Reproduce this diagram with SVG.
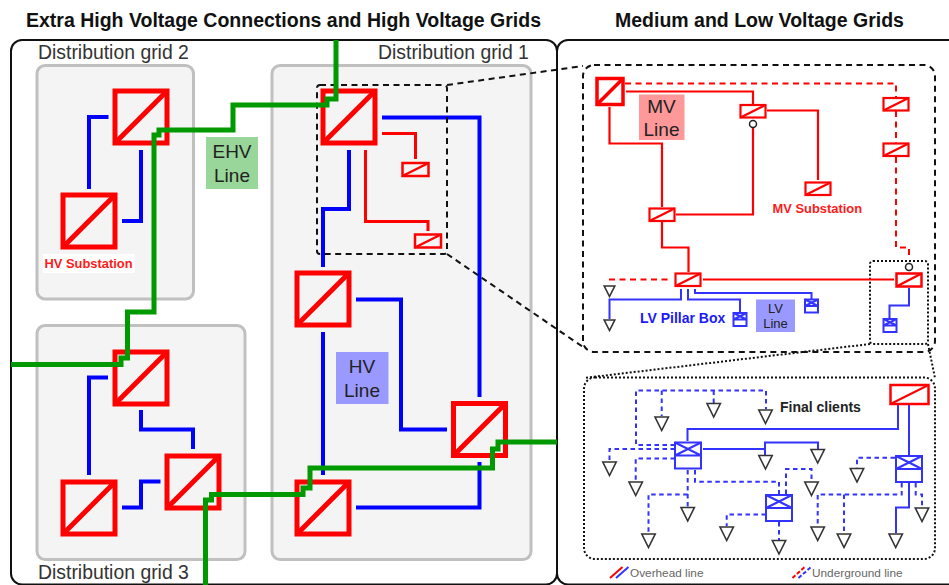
<svg xmlns="http://www.w3.org/2000/svg" width="949" height="585" viewBox="0 0 949 585">
<style>
text{font-family:"Liberation Sans",Arial,sans-serif;fill:#222}
.t{font-weight:bold;font-size:19.5px;fill:#111}
.g{font-size:19.4px;fill:#333}
.lb{font-size:19px;text-anchor:middle;fill:#222}
.lbs{font-size:13px;text-anchor:middle;fill:#222}
.frame{fill:none;stroke:#111;stroke-width:2}
.grid{fill:#f4f4f4;stroke:#c0c0c0;stroke-width:3}
.dash{fill:none;stroke:#111;stroke-width:2;stroke-dasharray:6 4.5}
.dot{fill:none;stroke:#111;stroke-width:2;stroke-dasharray:2 2}
path{fill:none}
.ehv{stroke:#009900;stroke-width:5}
.hv{stroke:#0000ff;stroke-width:4}
.mv{stroke:#ff0000;stroke-width:2.2}
.mv3{stroke:#ff0000;stroke-width:3}
.mvd{stroke:#ff0000;stroke-width:2;stroke-dasharray:6 4.5}
.lv{stroke:#3333ff;stroke-width:2}
.lvd{stroke:#3333ff;stroke-width:2;stroke-dasharray:4.5 3.5}
.sr{fill:none;stroke:#ff0000;stroke-width:5}
.s2{fill:#f4f4f4;stroke:#ff0000;stroke-width:2.5}
.s3{fill:#fff;stroke:#ff0000;stroke-width:2.2}
.p{fill:#fff;stroke:#3333ff;stroke-width:2}
.tri{fill:none;stroke:#333;stroke-width:1.6}
.ring{fill:#fff;stroke:#222;stroke-width:1.5}
.bred{font-weight:bold;font-size:12.9px;fill:#ff1a1a}
.bblue{font-weight:bold;font-size:14px;fill:#1a1aff}
.leg{font-size:11.8px;fill:#666}
</style>
<defs>
<g id="sq"><rect class="sr" width="52" height="52"/><path class="sr" d="M0 52L52 0"/></g>
<g id="sm"><rect class="s3" width="25" height="12.5"/><path class="s3" d="M0 12.5L25 0"/></g>
<g id="px"><rect class="p" width="26" height="26"/><path class="p" d="M0 0L26 13M26 0L0 13M0 13H26"/></g>
<g id="ps"><rect class="p" width="13" height="13"/><path class="p" d="M0 0L13 6.5M13 0L0 6.5M0 6.5H13"/></g>
<path id="tr" class="tri" d="M-6.7 0H6.7L0 13.5Z"/>
<path id="trs" class="tri" d="M-5.300 0H5.300L0 10.500Z"/>
</defs>

<g id="titles">
<text class="t" x="26" y="27">Extra High Voltage Connections and High Voltage Grids</text>
<text class="t" x="615" y="27">Medium and Low Voltage Grids</text>
</g>

<g id="frames">
<rect class="frame" x="11" y="40" width="546" height="544.5" rx="11"/>
<rect class="frame" x="557" y="40" width="410" height="544.5" rx="11"/>
</g>

<g id="grid2"><rect class="grid" x="37" y="65.5" width="156.5" height="233.5" rx="8"/><text class="g" x="38" y="59">Distribution grid 2</text></g>
<g id="grid1"><rect class="grid" x="272" y="65.5" width="259" height="494" rx="8"/><text class="g" x="378" y="59">Distribution grid 1</text></g>
<g id="grid3"><rect class="grid" x="37" y="325.5" width="208" height="234" rx="8"/><text class="g" x="38" y="579">Distribution grid 3</text></g>

<g id="hv-substation-label"><rect x="43" y="254" width="91.5" height="19" fill="#fff"/><text class="bred" x="44.5" y="268">HV Substation</text></g>
<g id="ehv-label"><rect x="206" y="137" width="52" height="52" fill="#99d699"/><text class="lb" x="232" y="158">EHV</text><text class="lb" x="232" y="182">Line</text></g>
<g id="hv-label"><rect x="336" y="352" width="52.5" height="52" fill="#9999ff"/><text class="lb" x="362" y="373">HV</text><text class="lb" x="362" y="397">Line</text></g>
<g id="mv-label"><rect x="639" y="94.5" width="45.5" height="45.5" fill="#ff9999"/><text class="lb" x="661.500" y="112.500">MV</text><text class="lb" x="661.500" y="136">Line</text></g>
<g id="lv-label"><rect x="756" y="299.5" width="39" height="32.5" fill="#9999ff"/><text class="lbs" x="775.5" y="313">LV</text><text class="lbs" x="775.5" y="328">Line</text></g>
<g id="mv-substation-label"><text class="bred" x="772.5" y="213">MV Substation</text></g>
<g id="lv-pillar-label"><text class="bblue" x="640" y="323">LV Pillar Box</text></g>
<g id="clients-label"><text x="780" y="412" font-size="14" font-weight="bold" fill="#111">Final clients</text></g>

<g id="hv-nodes">
<use id="s2a" href="#sq" x="115" y="91"/>
<use id="s2b" href="#sq" x="63" y="195"/>
<use id="s3a" href="#sq" x="115" y="352"/>
<use id="s3b" href="#sq" x="63" y="482"/>
<use id="s3c" href="#sq" x="167" y="456"/>
<use id="s1a" href="#sq" x="323" y="91"/>
<use id="s1b" href="#sq" x="297" y="273"/>
<use id="s1c" href="#sq" x="453.5" y="403.5"/>
<use id="s1d" href="#sq" x="297" y="482"/>
<g id="s1e"><rect class="s2" x="402.5" y="163" width="26" height="13"/><path class="s2" d="M402.5 176L428.5 163"/></g>
<g id="s1f"><rect class="s2" x="415" y="234.5" width="26" height="13"/><path class="s2" d="M415 247.5L441 234.5"/></g>
</g>

<g id="connectors-hv">
<path class="hv" d="M108.5 117H89V189M141 150V221H122"/>
<path class="hv" d="M108 377.5H89V475M141 410V429.5H193V449M122 507.5H141V481.5H160.5"/>
<path class="hv" d="M382 117.5H479.5V397M349 150V209H323V267M356 299.5H401V429.5H447M323 332V475M356 507.5H479.5V462"/>
<path class="mv3" d="M382 133.5H415.5V159M365.5 150V221.5H428V231"/>
</g>

<g id="zoom-guides">
<rect class="dash" x="317" y="85" width="130" height="169" rx="3"/>
<path class="dash" d="M447 85L583 66M447 254L583 347"/>
<rect class="dash" x="583" y="65" width="352" height="287" rx="11"/>
<rect class="dot" x="870" y="261" width="58" height="83" rx="3"/>
<path class="dot" d="M870 344L584 378M928 344L935 378"/>
<rect class="dot" x="584" y="377.5" width="351" height="181.5" rx="11"/>
</g>

<g id="connectors-ehv">
<path class="ehv" d="M336 40V99H327V105H233V130H159V135H154V312H127.5V358H121V364.5H11"/>
<path class="ehv" d="M205.5 585V500H211.5V494.5H303V488H310V468H492.5V449H498V442H557"/>
</g>

<g id="connectors-mv">
<path class="mvd" d="M625 83.5H896V97M896 111V143M896 157V247.5H909V259"/>
<path class="mvd" d="M609 279.5H672"/>
<path class="mv" d="M626 91.5H753V104M753 128V214.5H676M609.5 107V143.5H662V207M662 222V247.5H688.5V272M767 110.5H818V180M703 279.5H894"/>
</g>

<g id="connectors-lv">
<path class="lv" d="M681 289V299.5H609.5V319M688 289V299.5H740V312M695 289V293H811.5V299M909 288V305.5H889.5V318"/>
<path class="lv" d="M687.5 441V429H898V404M909 405V455M703 449H765V455M765 449V442.5H818V449M909 482V507.5H896V533"/>
<path class="lvd" d="M675 445H636V390.5H766V409M661.7 390.5V416M713.7 390.5V403M675 449H609.5V461M675 458.5H635.7V481M687.7 470V507M687.7 494.5H648.5V533M695 470V481.7H779V494M766 514.5H726.7V526M779 522V540M786 494V469H811.5V481M895 457.7H857V468M901.7 483V494.5H817.7V527M844 494.5V533M915.7 483V494.5H922V507"/>
</g>

<g id="mv-nodes">
<g id="mv-main"><rect x="597" y="78.5" width="26" height="26" fill="#fff" stroke="#ff0000" stroke-width="3.5"/><path d="M597 104.5L623 78.5" stroke="#ff0000" stroke-width="3.5"/></g>
<use id="mv1" href="#sm" x="649.5" y="208.5"/>
<use id="mv2" href="#sm" x="740.5" y="105"/>
<use id="mv3" href="#sm" x="805.5" y="182.5"/>
<use id="mv4" href="#sm" x="883.5" y="98"/>
<use id="mv5" href="#sm" x="883.5" y="143.5"/>
<use id="mv6" href="#sm" x="675.5" y="273.5"/>
<g id="mv7"><rect x="896.5" y="273.5" width="25" height="13" fill="#fff" stroke="#ff0000" stroke-width="2.5"/><path d="M896.5 286.5L921.5 273.5" stroke="#ff0000" stroke-width="2.5"/></g>
<g id="mv8"><rect x="890.5" y="385" width="38" height="19" fill="#fff" stroke="#ff0000" stroke-width="2.5"/><path d="M890.5 404L928.5 385" stroke="#ff0000" stroke-width="2"/></g>
<circle id="sw1" class="ring" cx="753" cy="124" r="3.5"/>
<circle id="sw2" class="ring" cx="909" cy="267" r="3.5"/>
</g>

<g id="lv-boxes">
<use id="p1" href="#ps" x="733.5" y="313"/>
<use id="p2" href="#ps" x="805" y="299.5"/>
<use id="p3" href="#ps" x="883.5" y="319"/>
<use id="pa" href="#px" x="675" y="442.5"/>
<use id="pb" href="#px" x="766" y="495"/>
<use id="pc" href="#px" x="896" y="456"/>
</g>

<g id="clients">
<use href="#trs" x="609.5" y="286"/>
<use href="#trs" x="609.5" y="320"/>
<use href="#tr" x="661.7" y="417"/>
<use href="#tr" x="713.7" y="403.5"/>
<use href="#tr" x="765.5" y="410"/>
<use href="#tr" x="609.5" y="462"/>
<use href="#tr" x="635.7" y="482"/>
<use href="#tr" x="687.7" y="507.5"/>
<use href="#tr" x="648.5" y="534"/>
<use href="#tr" x="726.7" y="527"/>
<use href="#tr" x="765.5" y="455.5"/>
<use href="#tr" x="817.7" y="449.5"/>
<use href="#tr" x="857" y="468.5"/>
<use href="#tr" x="811.5" y="482"/>
<use href="#tr" x="922" y="508"/>
<use href="#tr" x="817.7" y="527"/>
<use href="#tr" x="844" y="534"/>
<use href="#tr" x="895.7" y="534"/>
<use href="#tr" x="779" y="540.5"/>
</g>

<g id="legend">
<path stroke="#ff0000" stroke-width="2" d="M610 578L622.5 567"/>
<path stroke="#3333ff" stroke-width="2" d="M616 578L628.500 567"/>
<text class="leg" x="630" y="577">Overhead line</text>
<path stroke="#ff0000" stroke-width="2" stroke-dasharray="4 2" d="M792.5 578L804.5 567"/>
<path stroke="#3333ff" stroke-width="2" stroke-dasharray="4 2" d="M798.5 578L811 567"/>
<text class="leg" x="812" y="577">Underground line</text>
</g>
</svg>
